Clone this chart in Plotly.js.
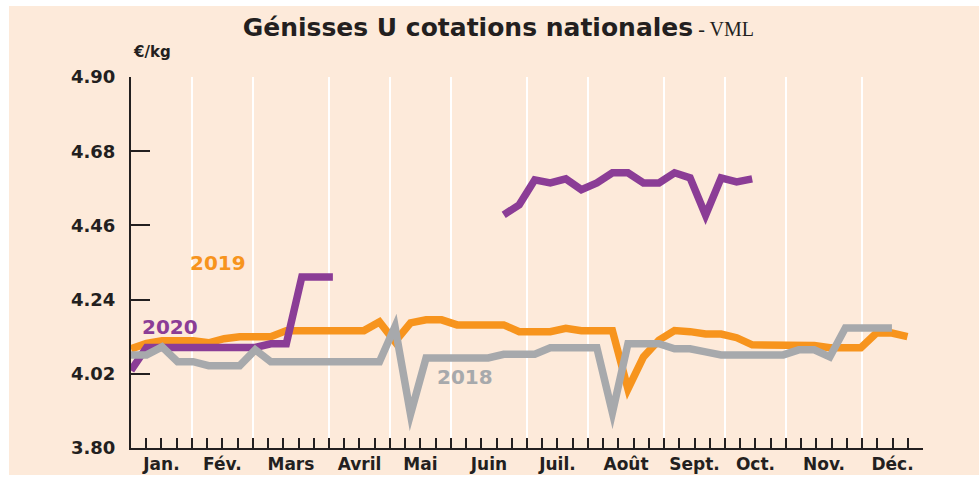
<!DOCTYPE html>
<html>
<head>
<meta charset="utf-8">
<script src="https://cdn.plot.ly/plotly-3.0.1.min.js"></script>
<style>
  html, body { margin: 0; padding: 0; background: #ffffff; }
  #chart { width: 979px; height: 478px; }
  .js-line { stroke-linejoin: miter !important; stroke-miterlimit: 30 !important; }
</style>
</head>
<body>
<div id="chart"></div>
<script>
// ---- Data (weekly cotations, €/kg) ----
const monthLabels = ["Jan.", "Fév.", "Mars", "Avril", "Mai", "Juin", "Juil.", "Août", "Sept.", "Oct.", "Nov.", "Déc."];
// month boundaries expressed in tick-intervals (52 tick intervals across the axis)
const monthBounds = [0, 4, 8, 13, 17, 21, 26, 30, 35, 39, 43, 48, 52];
const yTicks = [3.80, 4.02, 4.24, 4.46, 4.68, 4.90];

const s2018 = [4.076, 4.076, 4.100, 4.056, 4.056, 4.044, 4.044, 4.044, 4.091, 4.056,
               4.056, 4.056, 4.056, 4.056, 4.056, 4.056, 4.056, 4.160, 3.900, 4.067,
               4.067, 4.067, 4.067, 4.067, 4.078, 4.078, 4.078, 4.097, 4.097, 4.097,
               4.097, 3.905, 4.109, 4.109, 4.109, 4.094, 4.094, 4.085, 4.076, 4.076,
               4.076, 4.076, 4.076, 4.091, 4.091, 4.070, 4.156, 4.156, 4.156, 4.156];

const s2019 = [4.094, 4.110, 4.118, 4.118, 4.118, 4.112, 4.124, 4.130, 4.130, 4.130,
               4.148, 4.148, 4.148, 4.148, 4.148, 4.148, 4.174, 4.115, 4.171, 4.180,
               4.180, 4.165, 4.165, 4.165, 4.165, 4.145, 4.145, 4.145, 4.155, 4.148,
               4.148, 4.148, 3.975, 4.070, 4.120, 4.148, 4.145, 4.138, 4.138, 4.127,
               4.106, 4.106, 4.106, 4.106, 4.104, 4.097, 4.097, 4.097, 4.141, 4.141,
               4.130];

const s2020 = [4.030, 4.098, 4.098, 4.098, 4.098, 4.098, 4.098, 4.098, 4.098, 4.109,
               4.109, 4.307, 4.307, 4.307, null, null, null, null, null, null,
               null, null, null, null, 4.491, 4.521, 4.595, 4.586, 4.598, 4.566,
               4.586, 4.616, 4.616, 4.586, 4.586, 4.616, 4.601, 4.490, 4.601, 4.589,
               4.598];

// ---- Axis helpers (layout only) ----
const nWeeksSpan = 51;           // data weeks covered by the axis
const nTickIntervals = 52;       // weekly tick marks on the axis
const k = nWeeksSpan / nTickIntervals;
const idx = arr => arr.map((_, i) => i);
const weekTicks = Array.from({length: nTickIntervals + 1}, (_, i) => i * k);
const gridVals = monthBounds.slice(1, -1).map(b => b * k);
const labelVals = monthLabels.map((_, i) => (monthBounds[i] + monthBounds[i + 1]) / 2 * k);

const INK = "#231f20";
const ORANGE = "#f7941d", PURPLE = "#8b3d96", GREY = "#a7a9ac";
const BG = "#fdeada";
const W = 7.5;

const traces = [
  {x: idx(s2019), y: s2019, mode: "lines", line: {color: ORANGE, width: W}, hoverinfo: "y", showlegend: false},
  {x: idx(s2020), y: s2020, mode: "lines", line: {color: PURPLE, width: W}, connectgaps: false, hoverinfo: "y", showlegend: false},
  {x: idx(s2018), y: s2018, mode: "lines", line: {color: GREY, width: W}, hoverinfo: "y", showlegend: false},
  {x: [0], y: [4], xaxis: "x2", mode: "markers", marker: {opacity: 0}, hoverinfo: "skip", showlegend: false},
  {x: [0], y: [4], xaxis: "x3", mode: "markers", marker: {opacity: 0}, hoverinfo: "skip", showlegend: false}
];

const FONT = "DejaVu Sans, sans-serif";
const range = [0, nWeeksSpan];

const layout = {
  width: 979, height: 478,
  margin: {l: 131, r: 56, t: 77, b: 30},
  paper_bgcolor: "#ffffff",
  plot_bgcolor: "rgba(0,0,0,0)",
  font: {family: FONT, color: INK},
  title: {
    text: "<b>Génisses U cotations nationales</b><span style=\"font-family:'Liberation Serif',serif;font-size:20px;font-weight:normal\"> - VML</span>",
    font: {family: FONT, size: 25, color: INK},
    x: 0.509, xanchor: "center", y: 0.942, yanchor: "middle"
  },
  xaxis: {
    range: range, fixedrange: true,
    tickmode: "array", tickvals: weekTicks, showticklabels: false,
    ticks: "inside", ticklen: 10, tickwidth: 2, tickcolor: INK,
    showline: true, linecolor: INK, linewidth: 2,
    showgrid: false, zeroline: false
  },
  xaxis2: {
    overlaying: "x", anchor: "y", side: "bottom", range: range, fixedrange: true,
    tickmode: "array", tickvals: gridVals, showticklabels: false, ticks: "",
    showgrid: true, gridcolor: "#ffffff", gridwidth: 2,
    showline: false, zeroline: false
  },
  xaxis3: {
    overlaying: "x", anchor: "y", side: "bottom", range: range, fixedrange: true,
    tickmode: "array", tickvals: labelVals, ticktext: monthLabels, ticks: "",
    ticklabelstandoff: 4,
    tickfont: {family: FONT, size: 17, color: INK, weight: "bold"},
    showgrid: false, showline: false, zeroline: false
  },
  yaxis: {
    range: [3.80, 4.90], fixedrange: true,
    tickmode: "array", tickvals: yTicks, ticktext: yTicks.map(v => v.toFixed(2)),
    ticks: "inside", ticklen: 19, tickwidth: 2, tickcolor: INK,
    ticklabelstandoff: 10,
    tickfont: {family: FONT, size: 18, color: INK, weight: "bold"},
    showline: true, linecolor: INK, linewidth: 2,
    showgrid: false, zeroline: false
  },
  shapes: [{
    type: "rect", xref: "paper", yref: "paper", layer: "below",
    x0: (9 - 131) / 792, x1: (979 - 131) / 792,
    y0: (448 - 475) / 371, y1: (448 - 6) / 371,
    fillcolor: BG, line: {width: 0}
  }],
  annotations: [
    {text: "<b>€/kg</b>", xref: "paper", yref: "paper", x: (152 - 131) / 792, y: (448 - 52) / 371,
     xanchor: "center", yanchor: "middle", showarrow: false, font: {family: FONT, size: 15, color: INK}},
    {text: "<b>2019</b>", x: 5.6, y: 4.349, xanchor: "center", yanchor: "middle", showarrow: false,
     font: {family: FONT, size: 20, color: ORANGE}},
    {text: "<b>2020</b>", x: 2.5, y: 4.159, xanchor: "center", yanchor: "middle", showarrow: false,
     font: {family: FONT, size: 20, color: PURPLE}},
    {text: "<b>2018</b>", x: 21.5, y: 4.011, xanchor: "center", yanchor: "middle", showarrow: false,
     font: {family: FONT, size: 20, color: GREY}}
  ]
};

Plotly.newPlot("chart", traces, layout, {displayModeBar: false, staticPlot: true});
</script>
</body>
</html>
